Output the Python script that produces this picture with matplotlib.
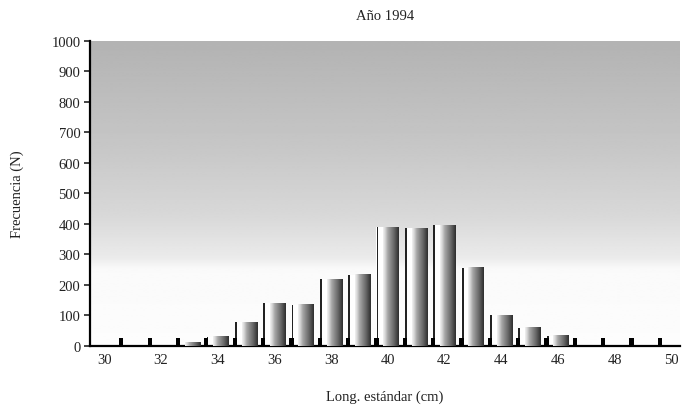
import numpy as np
import matplotlib
matplotlib.use("Agg")
import matplotlib.pyplot as plt

plt.rcParams['font.family'] = ['Liberation Serif', 'DejaVu Serif']

lengths = np.arange(30, 50)
frecuencia = [0, 0, 0, 12, 30, 78, 140, 135, 218, 233,
              390, 385, 395, 257, 100, 60, 33, 0, 0, 0]
marcas = [25] * 20
yticks = list(range(0, 1001, 100))
xticks = list(range(30, 51, 2))

fig = plt.figure(figsize=(6.88, 4.14), dpi=100)
ax = fig.add_axes([0.131, 0.162, 0.857, 0.737])

xlim = (29.5, 50.3)

# background: grey at the top fading to white near the bottom
yy = np.linspace(0, 1000, 200)
shade = np.interp(yy, [0, 250, 290, 420, 650, 1000], [0.99, 0.98, 0.92, 0.85, 0.78, 0.70])
ax.imshow(shade[::-1, None], extent=[xlim[0], xlim[1], 0, 1000], aspect='auto',
          cmap='gray', vmin=0, vmax=1, zorder=0, interpolation='bilinear')

bars = ax.bar(lengths, frecuencia, width=0.8, color='white', edgecolor='none', zorder=2)
xs = np.linspace(0, 1, 60)
body = np.interp(xs, [0, 0.15, 0.3, 0.7, 1.0], [0.95, 0.82, 0.65, 0.4, 0.18])
for p in bars:
    x0, w, h = p.get_x(), p.get_width(), p.get_height()
    if h <= 0:
        continue
    ax.imshow(body[None, :], extent=[x0 + 0.3 * w, x0 + w, 0, h], aspect='auto',
              cmap='gray', vmin=0, vmax=1, zorder=3, interpolation='bilinear')
    ax.bar(x0 + 0.05 * w, h, width=0.08 * w, color='#222222', zorder=3)

ax.bar(lengths + 0.6, marcas, width=0.15, color='black', zorder=4)

ax.set_xlim(*xlim)
ax.set_ylim(0, 1000)
ax.set_yticks(yticks)
ax.set_xticks(xticks)
ax.tick_params(axis='y', length=4, width=1.2, labelsize=10.5, colors='#222222', pad=3)
ax.tick_params(axis='x', length=0, labelsize=10.5, labelcolor='#222222', pad=5)
for s in ['top', 'right']:
    ax.spines[s].set_visible(False)
for s in ['left', 'bottom']:
    ax.spines[s].set_linewidth(1.6)
    ax.spines[s].set_color('black')

ax.set_title('Año 1994', fontsize=10.5, pad=16, color='#222222')
ax.set_xlabel('Long. estándar (cm)', fontsize=10.5, labelpad=17, color='#222222')
ax.set_ylabel('Frecuencia (N)', fontsize=10.5, labelpad=20, color='#222222')

fig.savefig('out.png', dpi=100)
